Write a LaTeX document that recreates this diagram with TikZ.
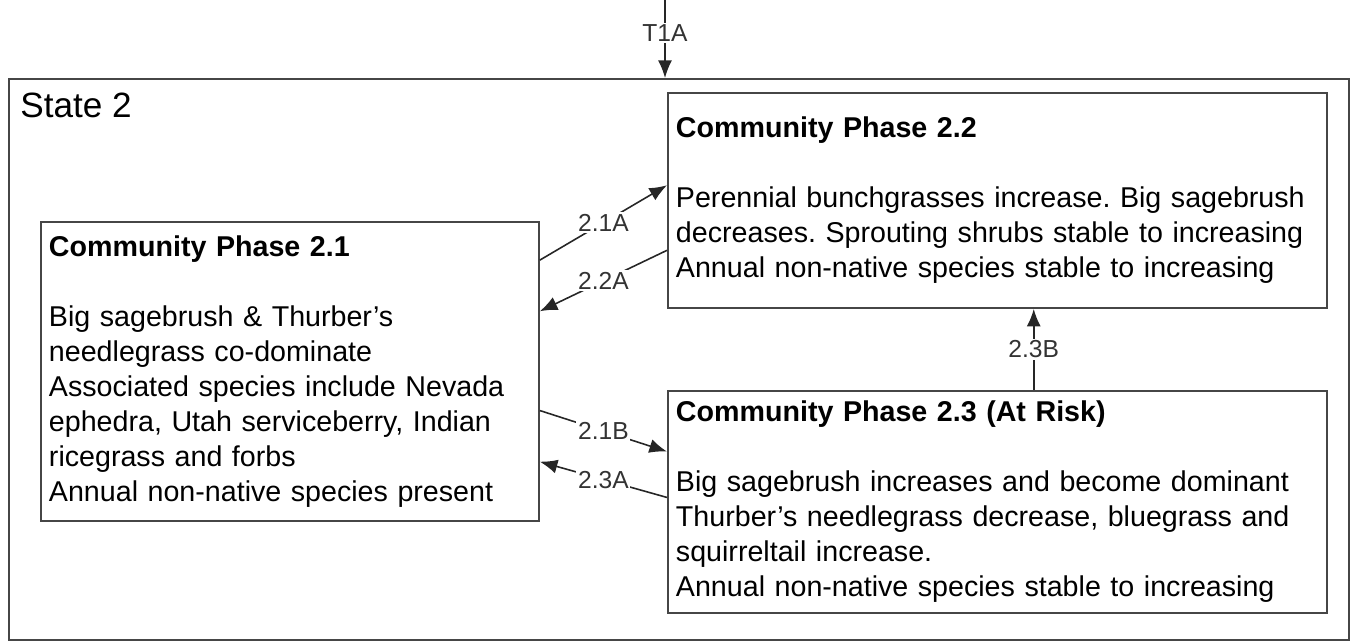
\documentclass[tikz,border=0pt]{standalone}
\usepackage{fontspec}
\setmainfont{Liberation Sans}
\frenchspacing
\usetikzlibrary{arrows.meta,positioning,calc,shadows}

\begin{document}
\begin{tikzpicture}[x=0.02cm,y=-0.02cm,>={Latex[length=10pt,width=8pt]},
    phase/.style={draw=gray!55!black, line width=1.1pt, fill=white, rectangle, align=left,
        inner sep=0.16cm, font=\fontsize{16.3}{19.9}\selectfont,
        drop shadow={shadow xshift=0.7pt, shadow yshift=-0.7pt, fill=gray!70, opacity=0.6}},
    trans/.style={->, line width=0.9pt, black!85},
    tlabel/.style={fill=white, inner sep=1pt, font=\fontsize{14}{16}\selectfont, text=black!80}]
        \useasboundingbox (0,0) rectangle (1350,641);

        % state box
        \node [draw=gray!55!black, line width=1.1pt, rectangle, minimum width=26.8cm, minimum height=11.22cm, anchor=north west, inner sep=0pt] (s2) at (8,78) {};
        \node [anchor=west, inner sep=0pt, font=\fontsize{20}{22}\selectfont] (s2lbl) at (20,105) {State 2};

        % community phases
        \node [phase, anchor=north west, text width=9.64cm, minimum height=5.98cm] (p21) at (40,221) {\textbf{Community Phase 2.1}\\[19.9pt]
            Big sagebrush \& Thurber's\\ needlegrass co-dominate\\ Associated species include Nevada\\ ephedra, Utah serviceberry, Indian\\ ricegrass and forbs\\ Annual non-native species present};
        \node [phase, anchor=north west, text width=12.86cm, minimum height=4.3cm] (p22) at (667,92) {\textbf{Community Phase 2.2}\\[19.9pt]
            Perennial bunchgrasses increase. Big sagebrush\\ decreases. Sprouting shrubs stable to increasing\\ Annual non-native species stable to increasing};
        \node [phase, anchor=north west, text width=12.86cm, minimum height=4.44cm] (p23) at (667,390) {\textbf{Community Phase 2.3 (At Risk)}\\[19.9pt]
            Big sagebrush increases and become dominant\\ Thurber's needlegrass decrease, bluegrass and\\ squirreltail increase.\\ Annual non-native species stable to increasing};

        % transitions
        \coordinate (t1) at (665,0);
        \draw [trans] (t1) -- node[tlabel, pos=0.42]{T1A} (t1 |- s2.north);
        \draw [trans] ($(p21.north east)!0.13!(p21.south east)$) -- node[tlabel]{2.1A} ($(p22.north west)!0.43!(p22.south west)$);
        \draw [trans] ($(p22.north west)!0.73!(p22.south west)$) -- node[tlabel]{2.2A} ($(p21.north east)!0.30!(p21.south east)$);
        \draw [trans] ($(p21.north east)!0.63!(p21.south east)$) -- node[tlabel]{2.1B} ($(p23.north west)!0.275!(p23.south west)$);
        \draw [trans] ($(p23.north west)!0.48!(p23.south west)$) -- node[tlabel]{2.3A} ($(p21.north east)!0.80!(p21.south east)$);
        \draw [trans] ($(p23.north west)!0.555!(p23.north east)$) -- node[tlabel]{2.3B} ($(p22.south west)!0.555!(p22.south east)$);
    \end{tikzpicture}
\end{document}
